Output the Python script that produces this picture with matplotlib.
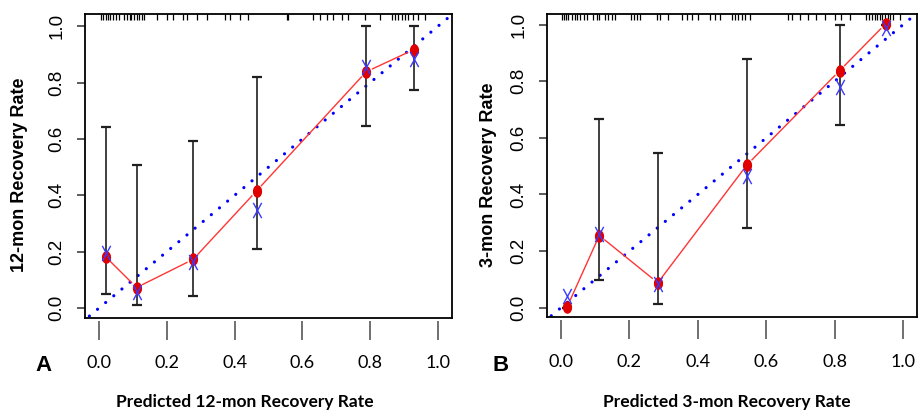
import numpy as np
import matplotlib
matplotlib.use('Agg')
import matplotlib.pyplot as plt
from matplotlib.path import Path

# Panel A : 12-month calibration
predA = [0.020, 0.111, 0.278, 0.465, 0.788, 0.929]
obsA  = [0.182, 0.073, 0.173, 0.416, 0.838, 0.917]
estA  = [0.195, 0.058, 0.165, 0.348, 0.856, 0.885]
loA   = [0.050, 0.012, 0.043, 0.210, 0.646, 0.775]
hiA   = [0.643, 0.508, 0.592, 0.818, 1.000, 1.000]
rugA  = [0.006, 0.013, 0.021, 0.028, 0.034, 0.042, 0.050, 0.058, 0.074, 0.082,
         0.091, 0.096, 0.103, 0.111, 0.119, 0.126, 0.133, 0.170, 0.200, 0.219,
         0.249, 0.259, 0.288, 0.318, 0.372, 0.386, 0.416, 0.440, 0.554, 0.558,
         0.632, 0.652, 0.672, 0.691, 0.716, 0.735, 0.785, 0.829, 0.863, 0.873,
         0.883, 0.893, 0.903, 0.912, 0.927, 0.942, 0.962]

# Panel B : 3-month calibration
predB = [0.018, 0.112, 0.283, 0.544, 0.815, 0.949]
obsB  = [0.003, 0.255, 0.088, 0.505, 0.838, 1.003]
estB  = [0.040, 0.262, 0.085, 0.464, 0.781, 0.987]
loB   = [0.000, 0.097, 0.014, 0.282, 0.646, 1.000]
hiB   = [0.000, 0.667, 0.547, 0.878, 0.998, 1.000]
rugB  = [0.002, 0.009, 0.015, 0.021, 0.031, 0.041, 0.048, 0.056, 0.067, 0.075,
         0.094, 0.104, 0.112, 0.129, 0.138, 0.148, 0.158, 0.206, 0.213, 0.221,
         0.231, 0.280, 0.289, 0.313, 0.353, 0.367, 0.382, 0.401, 0.435, 0.450,
         0.464, 0.499, 0.508, 0.518, 0.528, 0.538, 0.552, 0.664, 0.674, 0.698,
         0.722, 0.747, 0.771, 0.800, 0.820, 0.844, 0.893, 0.901, 0.909, 0.917,
         0.924, 0.932, 0.940, 0.948, 0.955, 0.963, 0.971, 0.990]

ticks = [0.0, 0.2, 0.4, 0.6, 0.8, 1.0]
tick_labels = ['0.0', '0.2', '0.4', '0.6', '0.8', '1.0']

W, H = 921, 411
fig = plt.figure(figsize=(W / 100, H / 100), dpi=100)

# tall X marker (the original image is slightly stretched vertically)
xmark = Path([(-0.55, -1), (0.55, 1), (-0.55, 1), (0.55, -1)],
             [Path.MOVETO, Path.LINETO, Path.MOVETO, Path.LINETO])
# tall dot
t = np.linspace(0, 2 * np.pi, 40)
dotmark = Path(np.column_stack([0.7 * np.cos(t), np.sin(t)]))


def panel(box, ylim, pred, obs, est, lo, hi, rug, ylab, xlab, letter, xlab_x, letter_x, ylab_x):
    l, r, top, bot = box
    ax = fig.add_axes([l / W, 1 - bot / H, (r - l) / W, (bot - top) / H])
    ax.set_xlim(-0.041, 1.041)
    ax.set_ylim(*ylim)

    # ideal line
    ax.plot([-0.1, 1.1], [-0.1, 1.1], color='#0000ff', lw=2.3,
            ls=(0, (0.01, 3.3)), dash_capstyle='round', zorder=2)

    # red line with gaps around the points (R type="b")
    fig.canvas.draw()
    pts = ax.transData.transform(np.column_stack([pred, obs]))
    inv = ax.transData.inverted()
    gap = 7
    for p0, p1 in zip(pts[:-1], pts[1:]):
        d = p1 - p0
        n = np.hypot(*d)
        if n > 2 * gap:
            a = inv.transform(p0 + d / n * gap)
            b = inv.transform(p1 - d / n * gap)
            ax.plot([a[0], b[0]], [a[1], b[1]], color='#ff3535', lw=1.0, zorder=3)

    # error bars, drawn from the lower bound upwards
    lo = np.array(lo)
    hi = np.array(hi)
    ax.errorbar(pred, lo, yerr=[np.zeros_like(lo), hi - lo],
                fmt='none', ecolor='#202020', elinewidth=1.2, capsize=3.4, capthick=1.6, zorder=2)
    ax.plot(pred, obs, ls='none', marker=dotmark, ms=8, color='#e00000', zorder=4)
    ax.plot(pred, est, ls='none', marker=xmark, ms=11, mew=1.0, color='#3a3aff',
            mfc='none', zorder=5)

    # rug along the top
    ax.vlines(rug, 1 - 5.5 / (bot - top), 1, transform=ax.get_xaxis_transform(),
              color='black', lw=0.9, zorder=3)

    for s in ['top', 'left', 'right']:
        ax.spines[s].set_linewidth(1.3)
    ax.spines['bottom'].set_position(('outward', 2))
    ax.spines['bottom'].set_visible(False)
    ax.plot([0, 1], [0, 0], transform=ax.transAxes, color='black', lw=1.3,
            clip_on=False, zorder=6)

    ax.set_xticks(ticks)
    ax.set_xticklabels(tick_labels, fontfamily='Lato', fontsize=13)
    ax.tick_params(axis='x', direction='out', length=13.5, width=1.4,
                   color='#707070', pad=11)
    ax.set_yticks(ticks)
    ax.set_yticklabels(tick_labels, fontfamily='Liberation Sans', fontsize=13.5,
                       rotation=90, va='center')
    ax.tick_params(axis='y', direction='out', length=6, width=1.1, color='#303030', pad=8)

    fig.text(ylab_x / W, 1 - ((top + bot) / 2 + 9) / H, ylab, rotation=90,
             fontfamily='Liberation Sans', fontweight='bold', fontsize=13,
             ha='center', va='center')
    fig.text(xlab_x / W, 1 - 402 / H, xlab, fontfamily='Lato', fontweight='bold',
             fontsize=12.5, ha='center', va='center')
    fig.text(letter_x / W, 1 - 365 / H, letter, fontfamily='Liberation Sans',
             fontweight='bold', fontsize=16, ha='center', va='center')
    return ax


panel((85, 452, 14, 318), (-0.035, 1.043), predA, obsA, estA, loA, hiA, rugA,
      '12-mon Recovery Rate', 'Predicted 12-mon Recovery Rate', 'A', 245, 43.5, 19.5)
panel((547, 917, 14, 317), (-0.033, 1.038), predB, obsB, estB, loB, hiB, rugB,
      '3-mon Recovery Rate', 'Predicted 3-mon Recovery Rate', 'B', 727, 501, 488)

fig.savefig('out.png', dpi=100)
